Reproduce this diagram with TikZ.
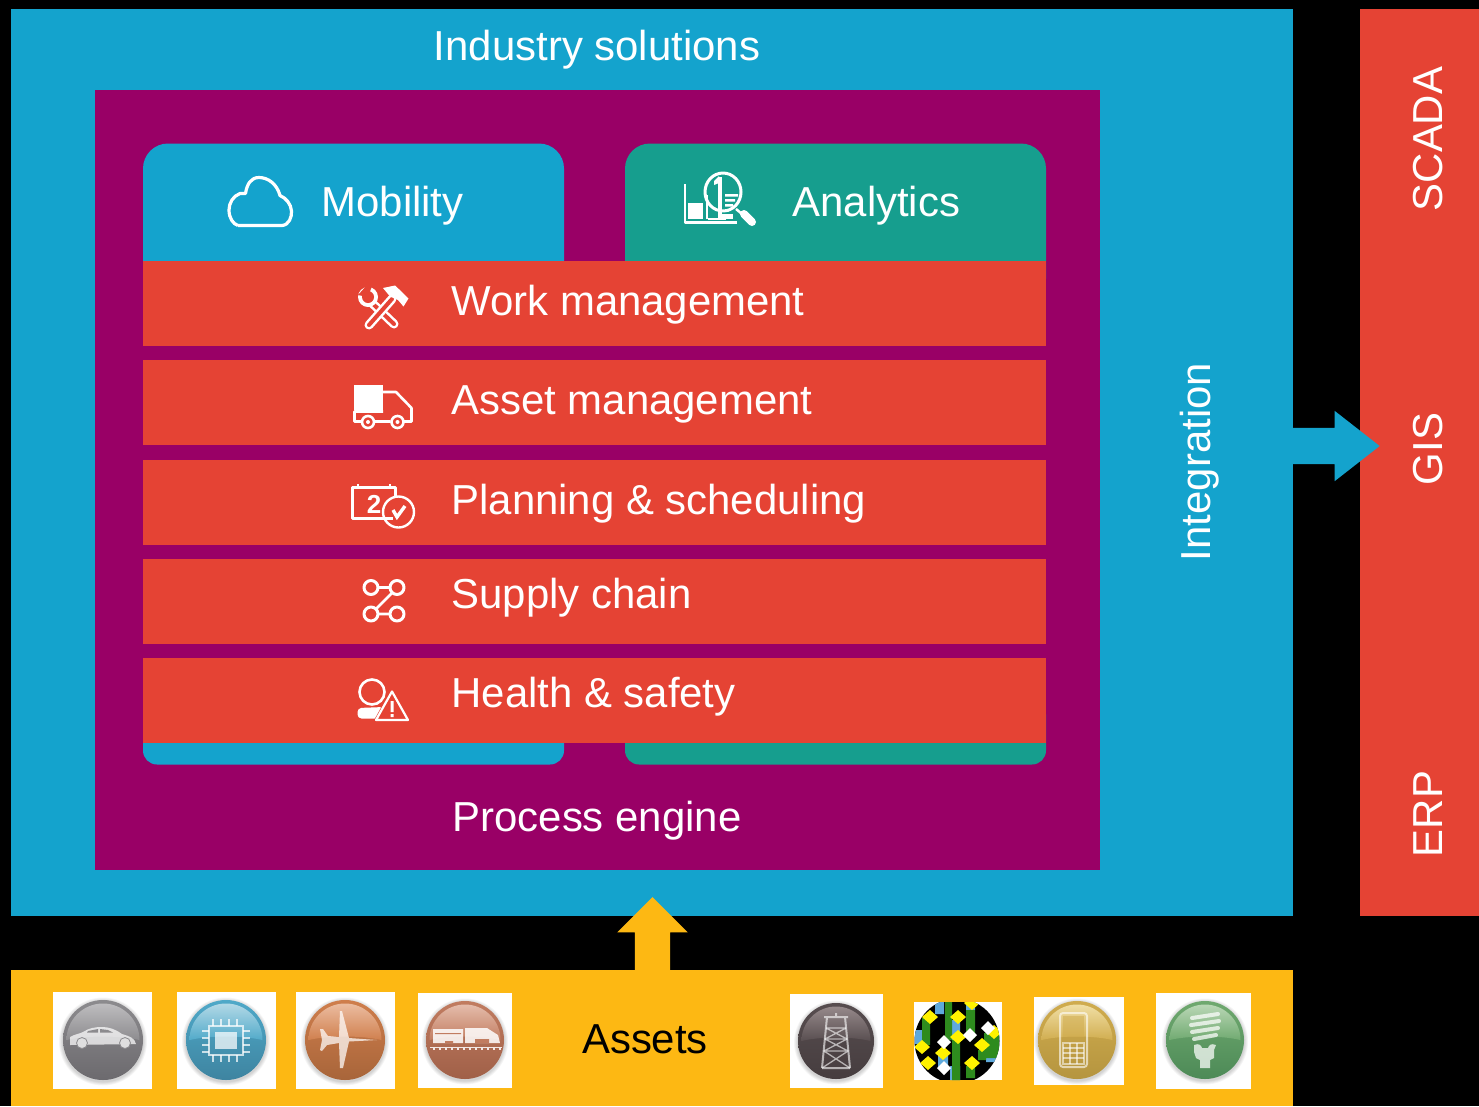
\documentclass[tikz,border=0pt]{standalone}
\usepackage{fontspec}
\setmainfont{Liberation Sans}
\usetikzlibrary{shapes.arrows}
\definecolor{cblue}{HTML}{14A3CD}
\definecolor{cpurple}{HTML}{990066}
\definecolor{cred}{HTML}{E54334}
\definecolor{cteal}{HTML}{169E8E}
\definecolor{cyellow}{HTML}{FDB813}
\definecolor{pgreen}{HTML}{2E8B1E}
\definecolor{pblue}{HTML}{5FA9DC}
\definecolor{pyellow}{HTML}{FFF200}
\definecolor{bcarA}{HTML}{8C8B8E}\definecolor{bcarB}{HTML}{6C6A6E}\definecolor{bcarG}{HTML}{C2C1C3}
\definecolor{bchipA}{HTML}{4FA9C9}\definecolor{bchipB}{HTML}{3E84A0}\definecolor{bchipG}{HTML}{BCDDE9}
\definecolor{bplaneA}{HTML}{CF7E4C}\definecolor{bplaneB}{HTML}{A8653A}\definecolor{bplaneG}{HTML}{EEC2A8}
\definecolor{btrainA}{HTML}{C17C60}\definecolor{btrainB}{HTML}{A06048}\definecolor{btrainG}{HTML}{E8C2B2}
\definecolor{btowerA}{HTML}{574D4F}\definecolor{btowerB}{HTML}{463D3F}\definecolor{btowerG}{HTML}{9C8F90}
\definecolor{bphoneA}{HTML}{D0AC4E}\definecolor{bphoneB}{HTML}{B5953F}\definecolor{bphoneG}{HTML}{F3E3AC}
\definecolor{bbulbA}{HTML}{6FA96F}\definecolor{bbulbB}{HTML}{4D8A57}\definecolor{bbulbG}{HTML}{C0DBBC}
\newcommand{\lbl}{\fontsize{41.9}{50}\selectfont}
\newcommand{\mybadge}[6]{% x, y, r, main, bottom, gloss
  \begin{scope}[shift={(#1,#2)}]
    \foreach \k in {5,4,3,2,1}{\fill[black,opacity=0.035] (0,1.5) circle ({#3+\k*0.8});}
    \shade[top color=#4,middle color=#4,bottom color=#5] (0,0) circle (#3);
    \begin{scope}
      \clip (0,0) circle ({#3-3.5});
      \shade[top color=#6,bottom color=#4]
        (-#3,1) .. controls (-#3*0.5,-5) and (#3*0.5,-5) .. (#3,1) -- (#3,-#3) -- (-#3,-#3) -- cycle;
    \end{scope}
  \end{scope}}
\tikzset{
  x=1pt,y=-1pt,
  panel/.style={anchor=north west,inner sep=0pt,outer sep=0pt,draw=none},
  whitebox/.style={panel,fill=white},
  lab/.style={inner sep=0pt,outer sep=0pt,text=white,font=\lbl},
  rowlab/.style={lab,anchor=base west},
  sidelab/.style={lab,anchor=base,rotate=90},
  ico/.style={draw=white,line width=2.6pt,fill=none,line join=round},
  glyphl/.style={draw=white,draw opacity=0.6,fill=none},
  blockarrow/.style={single arrow,inner sep=0pt,outer sep=0pt,draw=none,single arrow head indent=0pt},
}
\begin{document}
\begin{tikzpicture}
\useasboundingbox (0,0) rectangle (1479,1106);
\fill[black] (0,0) rectangle (1479,1106);

% panels
\node[panel,fill=cblue,minimum width=1282pt,minimum height=907pt] (main) at (11,9) {};
\node[panel,fill=cpurple,minimum width=1005pt,minimum height=780.5pt] (engine) at (95,89.5) {};
\node[panel,fill=cred,minimum width=119pt,minimum height=907pt] (side) at (1360,9) {};
\node[panel,fill=cyellow,minimum width=1282pt,minimum height=136pt] (assetsbar) at (11,970) {};
\node[panel,fill=cblue,rounded corners=25pt,minimum width=421pt,minimum height=160pt] (mob) at (143,143.5) {};
\node[panel,fill=cteal,rounded corners=25pt,minimum width=421pt,minimum height=160pt] (ana) at (625,143.5) {};
\node[panel,fill=cblue,rounded corners=14pt,minimum width=421pt,minimum height=64pt] (mobb) at (143,700.5) {};
\node[panel,fill=cteal,rounded corners=14pt,minimum width=421pt,minimum height=64pt] (anab) at (625,700.5) {};
\node[panel,fill=cred,minimum width=903pt,minimum height=85pt] (r1) at (143,261) {};
\node[panel,fill=cred,minimum width=903pt,minimum height=85pt] (r2) at (143,360) {};
\node[panel,fill=cred,minimum width=903pt,minimum height=85pt] (r3) at (143,460) {};
\node[panel,fill=cred,minimum width=903pt,minimum height=85pt] (r4) at (143,559) {};
\node[panel,fill=cred,minimum width=903pt,minimum height=85pt] (r5) at (143,658) {};

% block arrows
\node[blockarrow,fill=cblue,minimum height=87pt,single arrow head extend=17pt,single arrow tip angle=76] (outarrow) at (1324.5,446) {\rule{0pt}{36pt}};
\node[blockarrow,fill=cyellow,rotate=90,minimum height=73pt,single arrow head extend=17.5pt,single arrow tip angle=90] (inarrow) at (652.5,942.5) {\rule{0pt}{35pt}};

% labels
\node[lab,anchor=base] (tind) at (597,60) {Industry solutions};
\node[lab,anchor=base] (tproc) at (597,831) {Process engine};
\node[rowlab] (tmob) at (321.5,216) {Mobility};
\node[rowlab] (tana) at (792.5,216) {Analytics};
\node[rowlab] (t1) at (451.5,315) {Work management};
\node[rowlab] (t2) at (451.5,414) {Asset management};
\node[rowlab] (t3) at (451.5,514) {Planning \& scheduling};
\node[rowlab] (t4) at (451.5,608) {Supply chain};
\node[rowlab] (t5) at (451.5,707) {Health \& safety};
\node[sidelab] (tint) at (1210,462) {Integration};
\node[sidelab] (tsc) at (1442,139) {SCADA};
\node[sidelab] (tgis) at (1442,449) {GIS};
\node[sidelab] (terp) at (1442,814) {ERP};
\node[lab,anchor=base,text=black] (tass) at (645,1053) {Assets};

% cloud
\draw[ico,line width=3.2pt] (238,225.5) -- (282,225.5)
  .. controls (289,225) and (292,217) .. (291.5,211)
  .. controls (291,204) and (286,198) .. (280,195.5)
  .. controls (277,184) and (268,177.5) .. (259,177.5)
  .. controls (251,177.5) and (247,184) .. (245.5,193.5)
  -- (240,193.5) .. controls (233,196) and (229,203) .. (229,210)
  .. controls (229,218) and (233,224) .. (238,225.5);

% analytics
\draw[ico,line width=2.2pt] (685,184) -- (685,222.5) -- (737,222.5);
\fill[white] (688,203) rectangle (703,219);
\draw[ico,line width=2.4pt] (707,219) -- (707,195) (726,219) -- (708,219);
\fill[white] (721,214) rectangle (733,219);
\draw[ico,line width=3pt] (723,192) ellipse (18 and 19);
\fill[white] (718,177) rectangle (721.5,218);
\fill[white] (714,181) -- (719,176) -- (719,183) -- (714,185) -- cycle;
\fill[white] (725,194) rectangle (738,196.5) (725,199) rectangle (735,201.5) (725,204) rectangle (733,206.5) (725,209) rectangle (729,211.5);
\draw[white,line width=2.5pt] (736,209) -- (742,214);
\draw[white,line width=8pt,line cap=round] (744,214) -- (752,222);

% work management: wrench and hammer
\draw[white,line width=9pt,line cap=round] (372,303) -- (394,324);
\draw[cred,line width=4pt,line cap=round] (372,303) -- (394,324);
\fill[white] (368,297) circle (10);
\fill[cred] (368,297) circle (6);
\fill[cred] (368,297) -- (358,295) -- (368,284) -- (372,286) -- cycle;
\draw[white,line width=9pt,line cap=round] (392,299) -- (369,325);
\draw[cred,line width=4pt,line cap=round] (392,299) -- (369,325);
\fill[white] (383,288) -- (395,285.5) -- (402,292) -- (408.5,298.5) -- (403.5,306.5) -- (398,300) -- (390,296.5) -- cycle;

% truck
\fill[white] (354,385) rectangle (383,410);
\draw[ico] (383,392) -- (396,392) -- (411.5,408) -- (411.5,421.5) -- (403.5,421.5)
  (390.5,421.5) -- (374.5,421.5) (361.5,421.5) -- (354.5,421.5) -- (354.5,411.5) -- (383,411.5);
\draw[ico] (368,422) circle (6) (397.5,422) circle (6);
\fill[white] (368,422) circle (2) (397.5,422) circle (2);

% calendar and clock
\draw[ico,line width=3pt] (393,518) -- (352.5,518) -- (352.5,487) -- (395,487) -- (395,497);
\draw[white,line width=2pt] (358,484) -- (358,487) (390,484) -- (390,487);
\node[inner sep=0pt,text=white,font=\bfseries\fontsize{26}{26}\selectfont] (calnum) at (374,504) {2};
\draw[ico,line width=2.4pt] (398.5,512) circle (15.5);
\draw[white,line width=3.4pt] (393,510) -- (397,517) -- (405,506);

% supply chain
\draw[ico,line width=3pt] (371,587.5) circle (7) (397,587.5) circle (7) (371,614) circle (7) (397,614) circle (7);
\draw[ico,line width=2.6pt] (378,587.5) -- (390,587.5) (378,614) -- (390,614) (392,593) -- (376,609);

% health and safety
\draw[ico] (372,692) circle (12.5);
\fill[white,rounded corners=4pt] (357.5,718.5) -- (357.5,708) -- (384,707) -- (384,718.5) -- cycle;
\fill[cred] (392,688) -- (410,722) -- (373,722) -- cycle;
\draw[ico,line width=2.2pt] (392,691.5) -- (408,720) -- (376,720) -- cycle;
\fill[white] (390.5,701) rectangle (393.5,712) (390.5,714) rectangle (393.5,717);

% asset tiles
\node[whitebox,minimum width=99pt,minimum height=97pt] (a1) at (53,992) {};
\node[whitebox,minimum width=99pt,minimum height=97pt] (a2) at (177,992) {};
\node[whitebox,minimum width=99pt,minimum height=97pt] (a3) at (296,992) {};
\node[whitebox,minimum width=94pt,minimum height=95pt] (a4) at (418,993) {};
\node[whitebox,minimum width=93pt,minimum height=94pt] (a5) at (790,994) {};
\node[whitebox,minimum width=88pt,minimum height=78pt] (a6) at (914,1002) {};
\node[whitebox,minimum width=90pt,minimum height=88pt] (a7) at (1034,997) {};
\node[whitebox,minimum width=95pt,minimum height=96pt] (a8) at (1156,993) {};

% car
\mybadge{103}{1040}{40}{bcarA}{bcarB}{bcarG}
\begin{scope}[shift={(103,1040)}]
  \fill[white,opacity=0.72] (-33,3) -- (-33,-3) .. controls (-28,-6) and (-24,-6) .. (-20,-8) .. controls (-14,-12) and (-8,-13) .. (-1,-13) .. controls (6,-13) and (12,-11) .. (19,-6) .. controls (26,-4) and (32,-2) .. (33,4) -- (-33,5) -- cycle;
  \fill[bcarA] (-15,-9) -- (-5,-11) -- (-5,-7.5) -- (-16,-7.5) -- cycle (-3,-11) -- (5,-10) -- (10,-7.5) -- (-3,-7.5) -- cycle;
  \fill[white!75!gray,draw=bcarA,line width=0.8pt] (-21,3) circle (5.5) (22,3) circle (5.5);
\end{scope}

% chip
\mybadge{226}{1040}{40}{bchipA}{bchipB}{bchipG}
\begin{scope}[shift={(226,1040)},white,opacity=0.72]
  \draw[line width=2.4pt] (-17,-14) rectangle (17,15);
  \fill (-11,-8) rectangle (11,9);
  \foreach \t in {-13,-5,3,11}{
    \draw[line width=2pt] (\t,-14) -- (\t,-21) (\t,15) -- (\t,22);
  }
  \foreach \t in {-9,-2,5,12}{
    \draw[line width=2pt] (-17,\t) -- (-24,\t) (17,\t) -- (24,\t);
  }
\end{scope}

% plane
\mybadge{345}{1040}{40}{bplaneA}{bplaneB}{bplaneG}
\begin{scope}[shift={(345,1040)}]
  \fill[white,opacity=0.72] (32,0) -- (4,1.5) -- (-2,28) -- (-5,28) -- (-6,3) -- (-18,5) -- (-23,11) -- (-25,10) -- (-23,0) -- (-25,-11) -- (-22,-11) -- (-17,-4) -- (-6,-3) -- (-5,-29) -- (-3,-29) -- (4,-2) -- cycle;
\end{scope}

% train
\mybadge{465}{1040}{39}{btrainA}{btrainB}{btrainG}
\begin{scope}[shift={(465,1040)}]
  \fill[white,opacity=0.85] (-32,-11) rectangle (-2,3) (0,-12) -- (22,-12) -- (33,-5) -- (35,3) -- (0,3) -- cycle;
  \fill[white,opacity=0.85] (-35,6.5) rectangle (37,8);
  \foreach \t in {-32,-26,...,34}{\fill[white,opacity=0.85] (\t,8) rectangle (\t+1.5,10);}
  \fill[btrainA] (-30,-7) rectangle (-4,-6) (-20,1) rectangle (-12,3) (10,-1) rectangle (24,3);
\end{scope}

% derrick
\mybadge{836}{1041}{38}{btowerA}{btowerB}{btowerG}
\begin{scope}[shift={(836,1041)},glyphl,line width=1.3pt]
  \draw[line width=2pt] (-12,-24) -- (12,-24) (-9,-24) -- (-14,27) (9,-24) -- (14,27) (-14,27) -- (14,27) (0,-28) -- (0,-24);
  \draw (-10,-13) -- (10,-13) (-11,-2) -- (11,-2) (-12,10) -- (12,10)
    (-10,-13) -- (11,-2) -- (-12,10) -- (14,27) (10,-13) -- (-11,-2) -- (12,10) -- (-14,27);
\end{scope}

% pattern tile
\begin{scope}
  \clip (957,1041) circle (42.5);
  \clip (914,1002) rectangle (1002,1080);
  \fill[black] (914,1002) rectangle (1002,1080);
  \fill[pblue] (935,1002) rectangle (944,1014) (950,1020) rectangle (960,1040) (986,1043) rectangle (997,1062) (938,1055) rectangle (948,1068) (950,1066) rectangle (960,1080) (915,1030) rectangle (923,1044) (966,1002) rectangle (975,1010);
  \fill[pgreen] (945,1002) rectangle (952,1040) (966,1010) rectangle (975,1038) (952,1040) rectangle (960,1080) (922,1018) rectangle (930,1045) (984,1033) rectangle (999,1058) (966,1066) rectangle (975,1078) (978,1050) rectangle (986,1060);
  \foreach \cx/\cy in {930/1017,958/1017,922/1047,943/1053,982/1045,972/1063,928/1063,972/1003,958/1037,994/1032}{
    \fill[pyellow] (\cx-8,\cy) -- (\cx,\cy-7) -- (\cx+8,\cy) -- (\cx,\cy+7) -- cycle;}
  \foreach \cx/\cy in {944/1042,944/1068,988/1028,970/1035}{
    \fill[white] (\cx-7,\cy) -- (\cx,\cy-7) -- (\cx+7,\cy) -- (\cx,\cy+7) -- cycle;}
\end{scope}

% phone
\mybadge{1077}{1040}{39}{bphoneA}{bphoneB}{bphoneG}
\begin{scope}[shift={(1077,1040)}]
  \draw[white,opacity=0.6,line width=2pt,rounded corners=3pt] (-17,-27) rectangle (10,27);
  \fill[bphoneA,opacity=0.5] (-14,-24) rectangle (7,-3);
  \begin{scope}[white,opacity=0.55,line width=1.2pt]
  \draw (-14,3) rectangle (7,24);
  \foreach \t in {8,13,18}{\draw (-14,\t) -- (7,\t);}
  \foreach \t in {-7,0}{\draw (\t,3) -- (\t,24);}
  \end{scope}
\end{scope}

% bulb
\mybadge{1205}{1040}{39}{bbulbA}{bbulbB}{bbulbG}
\begin{scope}[shift={(1205,1040)},white,opacity=0.72]
  \foreach \t/\w in {-24/13,-17/14,-10/13,-3/11}{
    \draw[line width=4pt,line cap=round] (-\w,\t+2) -- (\w,\t-2);
  }
  \fill (-11,5) .. controls (-6,3) and (-4,5) .. (-3,8) -- (3,8) .. controls (4,5) and (6,3) .. (11,5) -- (9,10) -- (9,18) -- (5,20) -- (5,28) -- (-5,28) -- (-5,20) -- (-9,18) -- (-11,12) -- cycle;
\end{scope}
\end{tikzpicture}
\end{document}
